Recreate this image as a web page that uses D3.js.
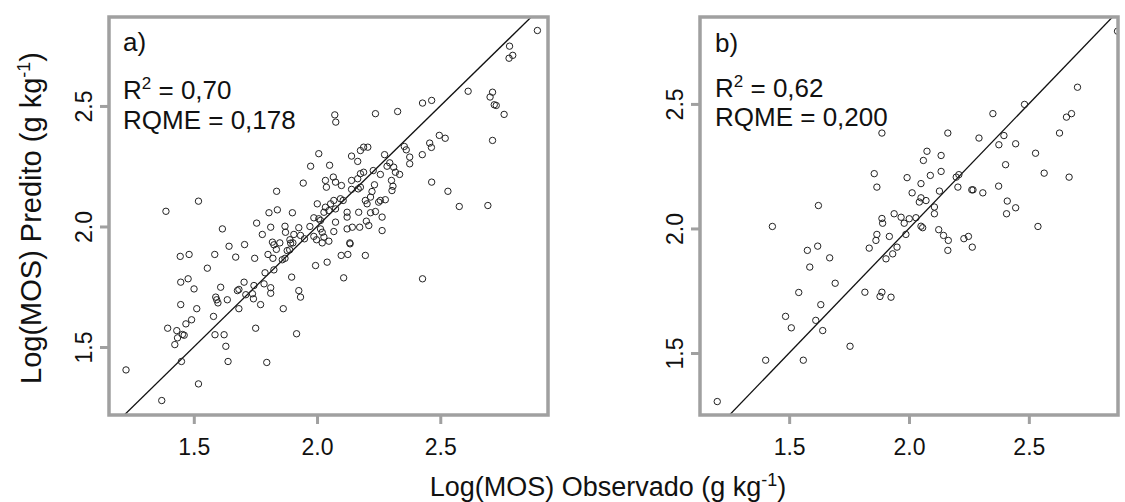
<!DOCTYPE html>
<meta charset="utf-8">
<style>
body { margin: 0; background: #fff; }
svg text { font-family: "Liberation Sans", Arial, sans-serif; fill: #111; }
.frame { fill: none; stroke: #a0a0a0; stroke-width: 3.5; }
.axis .domain { display: none; }
.axis line { stroke: #a0a0a0; stroke-width: 3; }
.axis text { font-size: 23px; fill: #111; }
.pt { fill: none; stroke: #222; stroke-width: 1; }
.fit { stroke: #111; stroke-width: 1.3; }
</style>
<body>
<div id="chart"></div>
<script src="https://d3js.org/d3.v7.min.js"></script>
<script>

// [observed, predicted] read off panel a)
var pointsA = [
  [2.007,2.302],[1.974,2.250],[1.944,2.180],[1.836,2.146],[1.519,2.105],[1.387,2.063],[1.805,2.057],[1.839,2.069],[1.900,2.057],[2.001,2.094],
  [2.894,2.813],[2.781,2.748],[2.779,2.698],[2.794,2.710],[2.613,2.561],[2.712,2.557],[2.702,2.537],[2.719,2.505],[2.727,2.502],[2.759,2.465],
  [2.428,2.512],[2.465,2.523],[2.327,2.477],[2.237,2.468],[2.072,2.463],[2.076,2.433],[2.496,2.378],[2.520,2.366],[2.712,2.357],[2.457,2.346],
  [2.464,2.328],[2.354,2.332],[2.362,2.318],[2.376,2.288],[2.376,2.260],[2.427,2.298],[2.274,2.298],[2.189,2.329],[2.206,2.329],[2.176,2.315],
  [2.140,2.292],[2.165,2.270],[2.295,2.264],[2.284,2.250],[2.311,2.246],[2.318,2.225],[2.335,2.216],[2.257,2.216],[2.228,2.232],[2.176,2.219],
  [2.189,2.225],[2.165,2.198],[2.140,2.191],[2.233,2.173],[2.302,2.191],[2.308,2.167],[2.304,2.149],[2.465,2.184],[2.531,2.146],[2.577,2.083],
  [2.693,2.087],[2.051,2.254],[2.066,2.205],[2.075,2.184],[2.034,2.191],[2.038,2.163],[2.099,2.170],[2.140,2.154],[2.167,2.156],[2.176,2.163],
  [2.223,2.145],[2.217,2.122],[2.196,2.108],[2.203,2.094],[2.257,2.108],[2.277,2.111],[2.250,2.101],[2.068,2.108],[2.095,2.115],[2.106,2.108],
  [2.055,2.094],[2.034,2.080],[2.028,2.059],[2.048,2.066],[2.075,2.073],[2.122,2.059],[2.169,2.059],[2.217,2.057],[2.237,2.062],[2.264,2.039],
  [2.122,2.039],[1.755,2.014],[1.616,1.990],[1.812,1.997],[1.870,2.001],[1.872,1.976],[1.926,1.995],[1.971,2.000],[1.987,2.036],[2.007,2.032],
  [2.014,1.990],[2.021,1.976],[1.778,1.967],[1.906,1.967],[1.933,1.963],[1.949,1.949],[1.987,1.959],[1.998,1.945],[2.028,1.956],[2.048,1.939],
  [1.643,1.918],[1.706,1.925],[1.819,1.935],[1.825,1.924],[1.849,1.932],[1.890,1.945],[1.893,1.931],[1.902,1.932],[2.021,1.932],[1.835,1.905],
  [1.879,1.900],[1.889,1.903],[1.445,1.876],[1.481,1.884],[1.585,1.884],[1.670,1.873],[1.747,1.868],[1.801,1.884],[1.821,1.868],[1.859,1.862],
  [1.870,1.868],[2.041,1.852],[1.994,1.838],[1.555,1.827],[1.825,1.820],[1.789,1.808],[1.897,1.790],[1.447,1.769],[1.477,1.783],[1.501,1.741],
  [1.609,1.748],[1.704,1.769],[1.744,1.755],[1.785,1.762],[1.812,1.746],[1.812,1.723],[1.677,1.734],[1.683,1.739],[1.738,1.721],[1.711,1.717],
  [1.742,1.700],[1.771,1.676],[1.926,1.734],[1.933,1.707],[1.589,1.707],[1.593,1.696],[1.598,1.683],[1.636,1.696],[1.447,1.676],[1.512,1.659],
  [1.683,1.659],[1.863,1.659],[1.580,1.627],[1.468,1.596],[1.491,1.613],[1.394,1.578],[1.431,1.568],[1.454,1.552],[1.461,1.549],[1.434,1.538],
  [1.423,1.510],[1.751,1.578],[1.586,1.551],[1.623,1.551],[1.917,1.555],[1.630,1.503],[1.450,1.440],[1.639,1.440],[1.796,1.436],[1.225,1.405],
  [1.519,1.347],[1.370,1.278],[2.014,2.025],[2.075,2.018],[2.068,1.979],[2.122,1.990],[2.143,1.997],[2.173,1.997],[2.200,2.022],[2.210,2.004],
  [2.264,1.983],[2.133,1.932],[2.134,1.928],[2.098,1.880],[2.125,1.884],[2.196,1.880],[2.108,1.787],[2.428,1.783]
];

// [observed, predicted] read off panel b)
var pointsB = [
  [1.887,2.383],[1.855,2.220],[1.866,2.166],[1.622,2.092],[1.938,2.059],[1.887,2.040],[2.870,2.792],[2.703,2.567],[2.482,2.498],[2.350,2.461],
  [2.678,2.461],[2.657,2.447],[2.628,2.383],[2.162,2.383],[2.292,2.363],[2.396,2.373],[2.375,2.336],[2.445,2.340],[2.528,2.302],[2.403,2.256],
  [2.564,2.222],[2.668,2.206],[2.075,2.310],[2.134,2.293],[2.060,2.273],[2.134,2.229],[1.992,2.204],[2.089,2.213],[2.197,2.206],[2.208,2.216],
  [2.050,2.180],[2.204,2.166],[2.267,2.155],[2.262,2.155],[2.308,2.143],[2.374,2.170],[2.013,2.143],[2.127,2.150],[2.043,2.106],[2.050,2.123],
  [2.071,2.112],[2.106,2.086],[2.106,2.059],[2.410,2.110],[2.445,2.083],[2.407,2.059],[1.967,2.045],[2.001,2.039],[2.029,2.043],[1.430,2.008],
  [1.576,1.912],[1.619,1.929],[1.669,1.882],[1.586,1.845],[1.692,1.780],[1.540,1.743],[1.816,1.744],[1.632,1.694],[1.485,1.647],[1.509,1.601],
  [1.611,1.631],[1.640,1.590],[1.754,1.527],[1.402,1.471],[1.559,1.471],[1.200,1.305],[1.890,2.021],[1.866,1.976],[1.862,1.952],[1.918,1.968],
  [1.834,1.921],[1.904,1.878],[1.887,1.744],[1.879,1.727],[1.925,1.724],[1.980,2.021],[2.057,2.003],[2.050,2.009],[1.987,1.976],[1.950,1.925],
  [1.932,1.898],[2.124,1.995],[2.144,1.972],[2.164,1.952],[2.162,1.912],[2.229,1.959],[2.248,1.968],[2.264,1.925],[2.538,2.008]
];

var tickValues  = [1.5, 2.0, 2.5];
var panelLabels = ["a)", "b)"];
var r2Values    = ["0,70", "0,62"];
var rqmeValues  = ["0,178", "0,200"];
var xTitle = "Log(MOS) Observado (g kg";
var yTitle = "Log(MOS) Predito (g kg";

var width = 1125, height = 502;

var panels = [
  {points: pointsA, left: 109, right: 548, top: 17, bottom: 415,
   xDomain: [1.156, 2.937], yDomain: [1.218, 2.869],
   label: panelLabels[0], r2: r2Values[0], rqme: rqmeValues[0], textX: 123, textY: [51, 99, 129]},
  {points: pointsB, left: 700, right: 1118, top: 17, bottom: 415,
   xDomain: [1.128, 2.872], yDomain: [1.251, 2.849],
   label: panelLabels[1], r2: r2Values[1], rqme: rqmeValues[1], textX: 715, textY: [52, 97, 126]}
];

var svg = d3.select("#chart").append("svg")
    .attr("width", width)
    .attr("height", height);

panels.forEach(function(p, i){
    var x = d3.scaleLinear().domain(p.xDomain).range([p.left, p.right]);
    var y = d3.scaleLinear().domain(p.yDomain).range([p.bottom, p.top]);

    var g = svg.append("g").attr("class", "panel");

    g.append("clipPath")
        .attr("id", "clip" + i)
      .append("rect")
        .attr("x", p.left).attr("y", p.top)
        .attr("width", p.right - p.left).attr("height", p.bottom - p.top);

    // x axis
    g.append("g")
        .attr("class", "axis")
        .attr("transform", "translate(0," + p.bottom + ")")
        .call(d3.axisBottom(x).tickValues(tickValues).tickFormat(d3.format(".1f")).tickSizeOuter(0).tickSizeInner(9))
      .selectAll("text")
        .attr("y", 40).attr("dy", 0);

    // y axis, labels rotated as in R
    g.append("g")
        .attr("class", "axis")
        .attr("transform", "translate(" + p.left + ",0)")
        .call(d3.axisLeft(y).tickValues(tickValues).tickFormat(d3.format(".1f")).tickSizeOuter(0).tickSizeInner(9))
      .selectAll("text")
        .attr("x", 0).attr("dy", 0)
        .attr("text-anchor", "middle")
        .attr("transform", "translate(-17,0) rotate(-90)");

    // 1:1 line
    var lo = Math.min(p.xDomain[0], p.yDomain[0]), hi = Math.max(p.xDomain[1], p.yDomain[1]);
    g.append("line")
        .attr("class", "fit")
        .attr("clip-path", "url(#clip" + i + ")")
        .attr("x1", x(lo)).attr("y1", y(lo))
        .attr("x2", x(hi)).attr("y2", y(hi));

    g.append("g")
        .attr("clip-path", "url(#clip" + i + ")")
      .selectAll("circle")
      .data(p.points)
      .enter().append("circle")
        .attr("class", "pt")
        .attr("cx", d => x(d[0]))
        .attr("cy", d => y(d[1]))
        .attr("r", 3.2);

    g.append("rect")
        .attr("class", "frame")
        .attr("x", p.left).attr("y", p.top)
        .attr("width", p.right - p.left).attr("height", p.bottom - p.top);

    // annotations
    g.append("text")
        .attr("x", p.textX).attr("y", p.textY[0])
        .style("font-size", "26px")
        .text(p.label);

    var r2 = g.append("text")
        .attr("x", p.textX).attr("y", p.textY[1])
        .style("font-size", "26px");
    r2.append("tspan").text("R");
    r2.append("tspan").attr("dy", -10).style("font-size", "17px").text("2");
    r2.append("tspan").attr("dy", 10).text(" = " + p.r2);

    g.append("text")
        .attr("x", p.textX).attr("y", p.textY[2])
        .style("font-size", "26px")
        .text("RQME = " + p.rqme);
});

// axis titles
function addTitle(sel, base, sup){
    sel.append("tspan").text(base);
    sel.append("tspan").attr("dy", -sup).style("font-size", "18px").text("-1");
    sel.append("tspan").attr("dy", sup).text(")");
}

addTitle(svg.append("text")
    .attr("x", 608).attr("y", 496)
    .attr("text-anchor", "middle")
    .style("font-size", "27px"), xTitle, 10);

addTitle(svg.append("text")
    .attr("text-anchor", "middle")
    .attr("transform", "translate(41,218) rotate(-90)")
    .style("font-size", "29px"), yTitle, 11);

</script>
